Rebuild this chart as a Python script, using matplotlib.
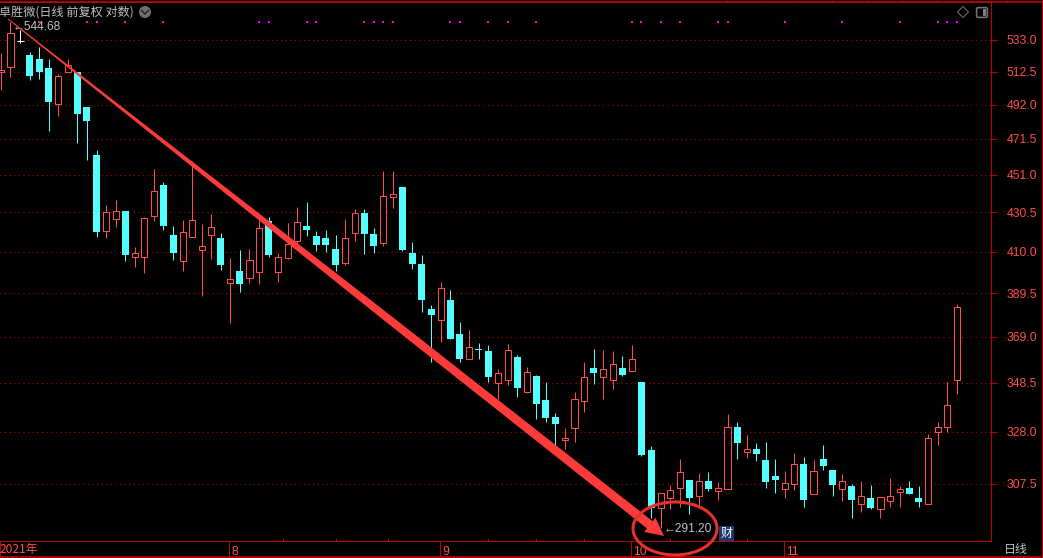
#coding:utf-8
import matplotlib
matplotlib.use("Agg")
import matplotlib.pyplot as plt
from matplotlib.patches import Circle, Ellipse, Polygon, FancyBboxPatch
from matplotlib.ticker import NullLocator
import numpy as np

# 日线 open / high / low / close
open_price = [512.2, 515.4, 532.3, 523.1, 520.5, 514.8, 492.4, 512.2, 512.2, 490.5,
              462.2, 420.7, 427.0, 431.3, 407.4, 407.4, 428.6, 445.3, 418.6, 405.4,
              417.6, 410.9, 418.6, 417.0, 394.4, 400.4, 396.9, 399.9, 426.0, 399.9,
              406.9, 415.5, 423.3, 418.1, 417.0, 411.4, 404.4, 419.7, 430.2, 419.1,
              414.4, 438.8, 444.2, 409.4, 403.9, 382.0, 376.8, 386.3, 370.4, 359.1,
              363.6, 362.7, 348.5, 349.8, 360.0, 344.6, 351.5, 341.3, 334.2, 324.8,
              329.6, 340.9, 355.1, 351.1, 349.8, 355.1, 353.8, 349.0, 320.8, 298.6,
              302.0, 306.0, 309.1, 303.1, 308.7, 304.9, 305.7, 330.0, 320.0, 321.2,
              316.9, 310.4, 305.7, 307.5, 315.3, 303.8, 317.3, 313.0, 305.7, 306.8,
              299.8, 302.0, 298.2, 301.2, 304.6, 306.0, 302.0, 299.8, 328.0, 330.0,
              349.8]
close_price = [513.5, 537.6, 532.3, 509.7, 512.2, 493.6, 509.7, 516.7, 486.3, 482.1,
               420.2, 430.7, 431.3, 408.4, 409.4, 427.6, 442.1, 423.3, 409.4, 420.2,
               426.5, 412.9, 422.8, 403.4, 396.4, 393.9, 405.9, 422.3, 408.4, 407.4,
               413.9, 425.5, 421.2, 413.4, 413.4, 403.4, 417.0, 430.2, 419.1, 412.9,
               439.4, 440.5, 410.9, 403.9, 386.3, 379.2, 392.0, 368.1, 359.0, 364.5,
               363.1, 351.1, 352.8, 363.1, 346.3, 353.3, 339.6, 333.7, 331.3, 325.6,
               341.7, 351.1, 352.8, 354.6, 356.9, 352.0, 359.1, 318.7, 298.6, 304.2,
               305.3, 312.2, 302.0, 308.7, 305.7, 306.0, 330.0, 323.6, 321.2, 319.0,
               308.3, 309.1, 307.9, 315.3, 301.6, 312.6, 314.2, 307.2, 308.7, 301.6,
               303.1, 298.6, 302.7, 303.1, 305.7, 303.8, 300.5, 325.6, 330.0, 339.2,
               382.9]
high_price = [524.4, 544.7, 539.6, 525.1, 528.4, 520.5, 511.0, 520.5, 512.2, 490.5,
              465.1, 434.5, 437.2, 431.3, 412.4, 428.1, 454.3, 447.0, 423.3, 426.5,
              458.8, 424.4, 429.7, 419.7, 406.9, 410.9, 411.4, 426.5, 428.1, 409.4,
              424.9, 433.4, 436.1, 420.7, 421.2, 418.6, 427.0, 432.3, 432.3, 422.3,
              453.1, 453.1, 444.2, 415.0, 408.4, 383.9, 394.9, 391.1, 375.6, 372.2,
              366.2, 365.4, 354.6, 365.8, 360.9, 355.5, 351.9, 348.9, 335.9, 329.6,
              344.4, 357.7, 363.6, 363.1, 362.7, 360.4, 365.4, 349.0, 322.4, 304.2,
              307.2, 317.3, 309.1, 311.8, 312.2, 308.3, 335.4, 332.1, 326.8, 323.6,
              324.0, 317.3, 312.6, 319.6, 318.0, 316.9, 322.8, 313.0, 311.1, 307.5,
              308.7, 307.2, 302.7, 309.9, 306.8, 308.7, 306.8, 327.2, 332.1, 348.9,
              384.4]
low_price = [500.9, 509.1, 531.0, 507.2, 507.8, 476.1, 485.1, 512.2, 469.1, 459.4,
             417.6, 417.0, 422.8, 405.4, 402.4, 399.4, 426.0, 421.2, 405.9, 400.4,
             417.6, 388.2, 406.4, 400.9, 375.4, 390.1, 394.4, 393.9, 407.4, 394.9,
             406.4, 412.4, 418.1, 410.4, 409.9, 400.4, 403.4, 415.5, 408.9, 409.4,
             412.9, 432.9, 410.4, 401.4, 380.6, 357.7, 366.7, 368.1, 357.7, 359.1,
             359.1, 349.0, 341.7, 347.6, 342.6, 344.2, 333.3, 332.1, 322.0, 321.2,
             324.0, 336.3, 348.0, 341.7, 345.9, 351.5, 353.8, 318.3, 294.9, 291.2,
             298.2, 299.0, 296.4, 299.3, 304.9, 301.6, 305.7, 317.3, 317.7, 316.2,
             306.0, 304.2, 302.3, 305.3, 299.0, 303.5, 313.0, 303.1, 301.2, 294.9,
             296.9, 297.9, 294.6, 299.0, 299.0, 303.8, 299.0, 299.8, 322.8, 328.0,
             343.8]

price_ticks = [533.0, 512.5, 492.0, 471.5, 451.0, 430.5, 410.0, 389.5, 369.0, 348.5, 328.0, 307.5]
month_idx = [23.9, 45.9, 65.9, 81.9]
month_labels = ["8", "9", "10", "11"]
week_idx = [29.5, 35, 40.5, 51, 56, 61, 70, 78]
signal_idx = [4, 9, 10, 13, 17, 27, 28, 32, 33, 38, 39, 40, 41, 47, 48, 51, 53, 56,
              66, 67, 69, 71, 75, 76, 82, 88, 94, 98, 99, 100]

RED = "#ff4d4d"
CYAN = "#54ffff"
FRAME = "#c00000"
GREY = "#c0c0c0"
NUM_FONT = "Liberation Sans"
CJK_FONT = ["Noto Sans CJK SC", "DejaVu Sans"]

W, H = 1043, 558
PLOT_RIGHT, PLOT_TOP, PLOT_BOTTOM = 991, 2, 541
# 价格轴是对数坐标, 533 在 y=40, 每像素 1/807
PX_PER_LOG = 807.0
STEP = 9.56
PX = 0.72  # one pixel in points

fig = plt.figure(figsize=(W / 100, H / 100), dpi=100, facecolor="black")
ax = fig.add_axes([0, (H - PLOT_BOTTOM) / H, PLOT_RIGHT / W, (PLOT_BOTTOM - PLOT_TOP) / H], facecolor="black")

o = np.array(open_price)
c = np.array(close_price)
hi = np.array(high_price)
lo = np.array(low_price)
idx = np.arange(len(o))

up = c > o
down = c < o
flat = c == o

ax.vlines(idx[up], lo[up], hi[up], color=RED, lw=PX, zorder=2, snap=True)
ax.vlines(idx[down], lo[down], hi[down], color=CYAN, lw=PX, zorder=2, snap=True)
ax.vlines(idx[flat], lo[flat], hi[flat], color="white", lw=PX, zorder=2, snap=True)
ax.bar(idx[up], c[up] - o[up], bottom=o[up], width=0.64, facecolor="black", edgecolor=RED, lw=PX, zorder=3, snap=True)
ax.bar(idx[down], o[down] - c[down], bottom=c[down], width=0.73, color=CYAN, lw=0, zorder=3, snap=True)
ax.hlines(c[flat], idx[flat] - 0.36, idx[flat] + 0.36, color="white", lw=PX, zorder=3, snap=True)

ax.set_yscale("log")
ax.set_ylim(533 * np.exp(-(PLOT_BOTTOM - 40) / PX_PER_LOG), 533 * np.exp((40 - PLOT_TOP) / PX_PER_LOG))
ax.set_xlim(1 - 10.5 / STEP, 1 + (PLOT_RIGHT - 10.5) / STEP)

ax.yaxis.tick_right()
ax.yaxis.set_minor_locator(NullLocator())
ax.set_yticks(price_ticks)
ax.set_yticklabels(["%.1f" % p for p in price_ticks], color=RED, fontfamily=NUM_FONT, fontsize=8.8)
ax.tick_params(axis="y", which="major", length=4.3, width=PX, color=FRAME, pad=7)
ax.tick_params(axis="y", which="minor", length=0)
ax.grid(axis="y", which="major", color="#d00000", ls=(0, (1, 3.6)), lw=PX, zorder=1)

ax.set_xticks(month_idx)
ax.set_xticks(week_idx, minor=True)
ax.set_xticklabels([])
ax.tick_params(axis="x", which="major", length=11.5, width=PX, color=FRAME)
ax.tick_params(axis="x", which="minor", direction="in", length=2, width=PX, color=FRAME)
for i, label in zip(month_idx, month_labels):
    ax.annotate(label, (i, 0), xycoords=("data", "axes fraction"), xytext=(1.6, -8), textcoords="offset points",
                color=RED, fontfamily=NUM_FONT, fontsize=8.8, va="center", ha="left")

ax.spines["left"].set_visible(False)
for side in ["right", "top", "bottom"]:
    ax.spines[side].set_color(FRAME)
    ax.spines[side].set_linewidth(PX)

ax.scatter(signal_idx, [(PLOT_BOTTOM - 22) / (PLOT_BOTTOM - PLOT_TOP)] * len(signal_idx), marker="s", s=2.6,
           color="#ff00ff", lw=0, transform=ax.get_xaxis_transform(), zorder=4)

# 手绘标注层, 用像素坐标
top = fig.add_axes([0, 0, 1, 1], facecolor="none")
top.set_xlim(0, W)
top.set_ylim(H, 0)
top.axis("off")

top.plot([0, W], [2, 2], color=FRAME, lw=1.2)
top.plot([0, W], [557, 557], color=FRAME, lw=1.2)
top.plot([1042, 1042], [0, H], color=FRAME, lw=PX)
top.plot([0, 0], [541, H], color=FRAME, lw=PX)
top.vlines(np.arange(727, 1040, 35), 0, 2, color=FRAME, lw=PX)

top.text(-1, 12, "卓胜微(日线 前复权 对数)", color=GREY, fontfamily=CJK_FONT, fontsize=8.7, va="center", ha="left")
top.add_patch(Circle((145, 12), 6, facecolor="#707070", edgecolor="none"))
top.plot([141.5, 145, 148.5], [10.5, 14, 10.5], color="#202020", lw=1)
top.text(13, 27.5, "←544.68", color=GREY, fontfamily=NUM_FONT, fontsize=8.6, va="center", ha="left")
top.text(664, 529, "←291.20", color=GREY, fontfamily=NUM_FONT, fontsize=8.6, va="center", ha="left")
top.text(726.5, 533.5, "财", color="white", fontfamily=CJK_FONT, fontsize=8.6, va="center", ha="center",
         bbox=dict(facecolor="#1c3a6e", edgecolor="none", pad=1))
top.text(0, 549, "2021年", color=RED, fontfamily=CJK_FONT, fontsize=8.6, va="center", ha="left")
top.text(1004, 549, "日线", color=GREY, fontfamily=CJK_FONT, fontsize=8.6, va="center", ha="left")

top.add_patch(Polygon([(963, 6.5), (968.5, 12), (963, 17.5), (957.5, 12)], closed=True, fill=False, edgecolor="#666666", lw=0.8))
top.add_patch(FancyBboxPatch((977, 8), 10, 9, boxstyle="round,pad=0.4,rounding_size=1.5", fill=False, edgecolor="#707070", lw=1.2))
top.add_patch(plt.Rectangle((983, 9), 3, 7, facecolor="#808080", edgecolor="none"))

# 红色箭头和圆圈, 箭杆越往后越粗
start = np.array([8.0, 19.0])
tip = np.array([664.0, 536.0])
u = (tip - start) / np.linalg.norm(tip - start)
n = np.array([-u[1], u[0]])
base = tip - u * 18
length = np.linalg.norm(base - start)
shaft_t = [0.0, 0.27, 0.6, 1.0]
shaft_half = [0.5, 2.0, 4.0, 4.6]
upper = [start + u * length * t + n * w for t, w in zip(shaft_t, shaft_half)]
lower = [start + u * length * t - n * w for t, w in zip(shaft_t, shaft_half)]
outline = upper + [base + n * 9, tip, base - n * 9] + lower[::-1]
top.add_patch(Polygon(outline, closed=True, facecolor="#ff3a3a", edgecolor="none", zorder=6))
top.add_patch(Ellipse((675, 528.5), 84, 53, fill=False, edgecolor="#e8302c", lw=2.2, zorder=6))

fig.savefig("out.png", dpi=100, facecolor="black")
